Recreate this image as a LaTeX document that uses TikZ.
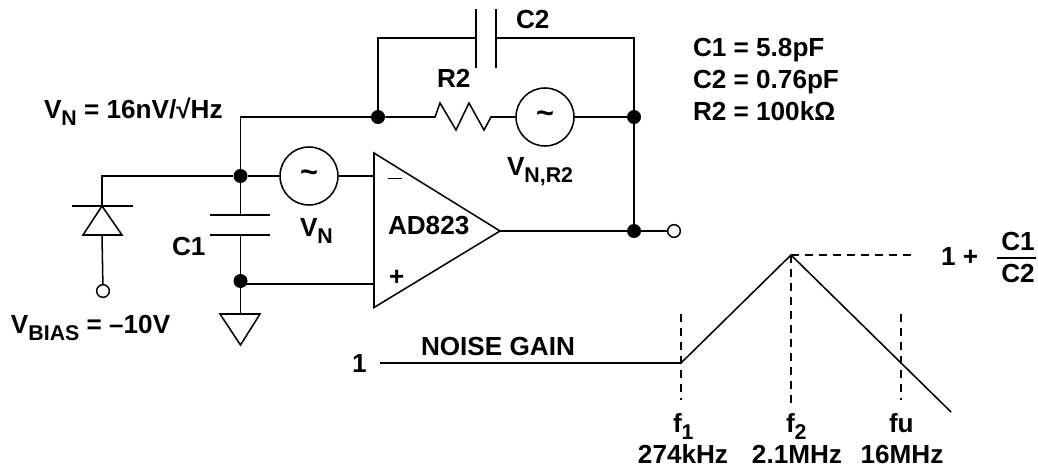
\documentclass[tikz,border=0pt]{standalone}
\usepackage{fontspec}
\setmainfont{Liberation Sans}[BoldFont={Liberation Sans Bold}]
\newcommand{\lowtxt}[1]{\raisebox{-0.3em}{\fontsize{16pt}{17pt}\selectfont #1}}
\tikzset{
  wire/.style={line width=1.15pt,line join=miter},
  dashline/.style={line width=1.25pt,dash pattern=on 6pt off 4.5pt},
  junction/.style={circle,fill=black,draw=none,minimum size=10.5pt,inner sep=0pt},
  openterm/.style={circle,draw=black,fill=white,line width=1.1pt,minimum size=9.5pt,inner sep=0pt},
  source/.style={circle,draw=black,fill=white,line width=1.15pt,minimum size=43.5pt,inner sep=0pt,font=\fontsize{23pt}{24pt}\selectfont\bfseries},
  lab/.style={anchor=base west,inner sep=0pt,outer sep=0pt,font=\fontsize{19.6pt}{21pt}\selectfont\bfseries},
  clab/.style={anchor=base,inner sep=0pt,outer sep=0pt,font=\fontsize{19.6pt}{21pt}\selectfont\bfseries}
}
\begin{document}
\begin{tikzpicture}[x=0.75pt,y=-0.75pt]
\useasboundingbox (0,0) rectangle (1038,467);
% junctions and terminals
\node[junction] (jin) at (240.5,176) {};
\node[junction] (jgnd) at (240.5,281) {};
\node[junction] (jfb) at (378,117) {};
\node[junction] (jr) at (634,117) {};
\node[junction] (jout) at (634,231) {};
\node[openterm] (tbias) at (103,291) {};
\node[openterm] (tout) at (674,231) {};
% sources
\node[source] (vn) at (309,176) {\raisebox{-1pt}{\symbol{126}}};
\node[source] (vnr) at (545,117) {\raisebox{-1pt}{\symbol{126}}};
% coordinates
\coordinate (dtop) at (102,176);
\coordinate (dbar) at (102,206);
\coordinate (dbase) at (102,235);
\coordinate (c1a) at (240.5,215);
\coordinate (c1b) at (240.5,235);
\coordinate (gnd) at (240.5,314);
\coordinate (tl) at (240.5,117);
\coordinate (opm) at (374,176);
\coordinate (opp) at (374,284);
\coordinate (optip) at (500,231);
\coordinate (fbt) at (378,38);
\coordinate (c2a) at (476,38);
\coordinate (c2b) at (496,38);
\coordinate (fbr) at (634,38);
\coordinate (ra) at (435,117);
\coordinate (rb) at (491,117);
\coordinate (g0) at (380,363);
\coordinate (g1) at (681,363);
\coordinate (g2) at (791,255);
\coordinate (g3) at (951,412);
% op amp
\draw[wire] (374,153) -- (374,307.5) -- (optip) -- cycle;
\draw[line width=.7pt] (388,178.5) -- (402,178.5);
% diode
\draw[wire] (jin) -- (dtop) -- (dbar);
\draw[wire] (72,206) -- (133,206);
\draw[wire] (dbar) -- (83,235) -- (122,235) -- cycle;
\draw[wire] (dbase) -- (tbias);
% C1 and ground
\draw[wire] (jin) -- (c1a);
\draw[wire] (210,215) -- (270,215);
\draw[wire] (210,235) -- (270,235);
\draw[wire] (c1b) -- (jgnd) -- (gnd);
\draw[wire] (220,314) -- (260,314) -- (240.5,345) -- cycle;
\draw[wire] (240.5,284) -- (opp);
% inputs
\draw[wire] (jin) -- (vn) -- (opm);
\draw[wire] (jin) -- (tl) -- (jfb);
% feedback
\draw[wire] (jfb) -- (fbt) -- (c2a);
\draw[wire] (476,9) -- (476,68);
\draw[wire] (496,9) -- (496,68);
\draw[wire] (c2b) -- (fbr) -- (jr);
\draw[wire] (jfb) -- (ra) -- (440,103) -- (456,130) -- (469,103) -- (484,130) -- (rb) -- (vnr);
\draw[wire] (vnr) -- (jr) -- (jout);
\draw[wire] (optip) -- (jout) -- (tout);
% noise gain curve
\draw[wire] (g0) -- (g1) -- (g2) -- (g3);
\draw[dashline] (g2) -- (912,255);
\draw[dashline] (681,314) -- (681,400);
\draw[dashline] (g2) -- (791,403);
\draw[dashline] (901,314) -- (901,400);
% labels
\node[lab] (l1) at (44,118) {V\lowtxt{N} = 16nV/√Hz};
\node[lab] (l2) at (437,88) {R2};
\node[lab] (l3) at (516,29) {C2};
\node[lab] (l4) at (693,57) {C1 = 5.8pF};
\node[lab] (l5) at (693,89) {C2 = 0.76pF};
\node[lab] (l6) at (693,120) {R2 = 100kΩ};
\node[lab] (l7) at (300,236) {V\lowtxt{N}};
\node[lab] (l8) at (388,234) {AD823};
\node[lab] (l9) at (172,255) {C1};
\node[lab] (l10) at (507,175) {V\lowtxt{N,R2}};
\node[lab] (l11) at (11,333) {V\lowtxt{BIAS} = –10V};
\node[lab] (l12) at (389,285) {+};
\node[lab] (l13) at (352,372) {1};
\node[lab] (l14) at (421,355) {NOISE GAIN};
\node[lab] (l15) at (941,265) {1 +};
\node[clab] (l16) at (1018,250) {C1};
\node[clab] (l17) at (1018,282) {C2};
\draw[wire] (997,258) -- (1036,258);
\node[lab] (l18) at (673,432) {f\lowtxt{1}};
\node[lab] (l19) at (786,432) {f\lowtxt{2}};
\node[lab] (l20) at (889,432) {fu};
\node[clab] (l21) at (683,463) {274kHz};
\node[clab] (l22) at (797,463) {2.1MHz};
\node[clab] (l23) at (902,463) {16MHz};
\end{tikzpicture}
\end{document}
